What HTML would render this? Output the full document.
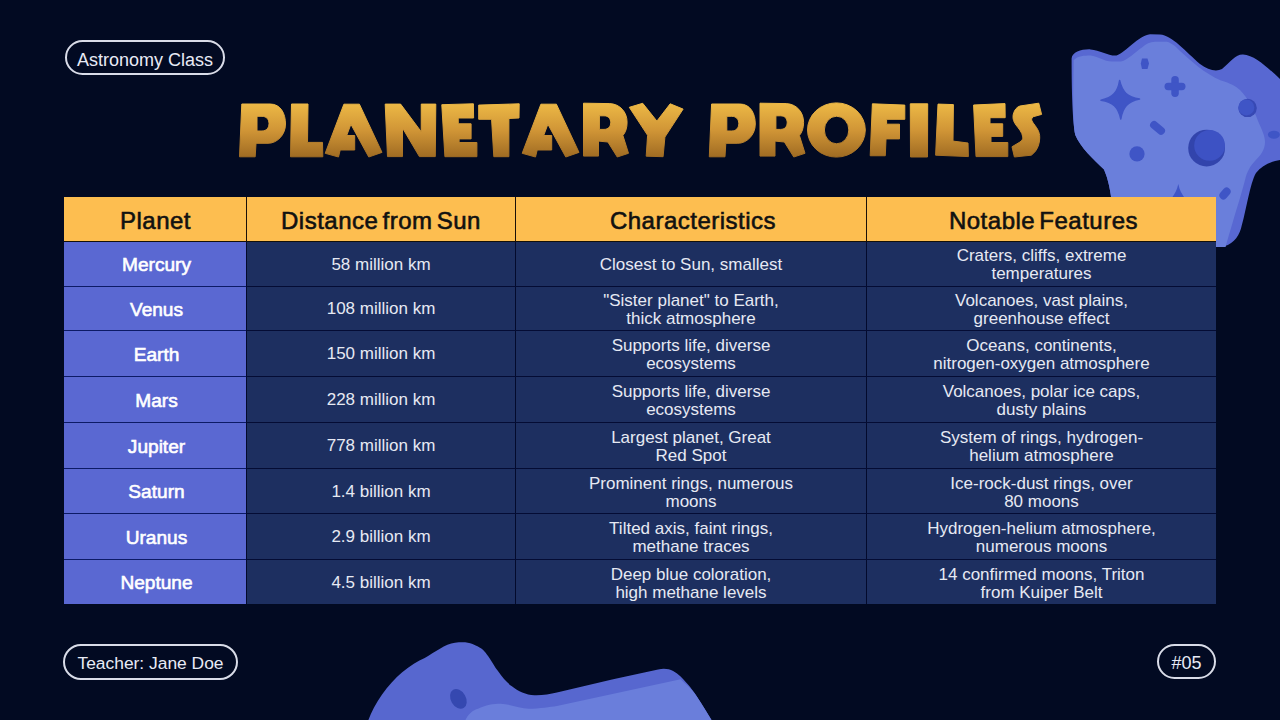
<!DOCTYPE html>
<html><head><meta charset="utf-8">
<style>
*{margin:0;padding:0;box-sizing:border-box}
html,body{width:1280px;height:720px;overflow:hidden;background:#020a22}
body{position:relative;font-family:"Liberation Sans",sans-serif}
.pill{position:absolute;border:2px solid #d9dce8;border-radius:20px;color:#e8ebf6;font-size:18px;line-height:36px;text-align:center;white-space:nowrap}
.c{position:absolute;display:flex;align-items:center;justify-content:center;text-align:center;white-space:nowrap}
.h{background:#fdbe50;color:#111;font-size:24px;-webkit-text-stroke:0.6px #111;letter-spacing:0.5px;word-spacing:-3px;padding-top:4px}
.p{background:#5a68d2;color:#fff;font-size:19.1px;-webkit-text-stroke:0.6px #fff;padding-left:3px;padding-top:2px}
.d{background:#1d2f60;color:#e6e9f3;font-size:17px;line-height:17.6px;padding-top:1px}
.d2{padding-top:3px}
.vl{position:absolute;width:1px;background:#050a24}
.hl{position:absolute;height:1px;background:#050a24}
</style></head><body>
<svg width="1280" height="720" style="position:absolute;left:0;top:0">
  <!-- top right asteroid -->
  <path d="M1071.6,58.6 C1072,52 1082,49 1090.5,49.4 C1100,50 1108,56 1116.5,55.5 C1126,52 1138,36 1150,34.2 L1160,34.5 C1172,35 1186,52 1200,64 C1208,70 1216,72 1222,69 C1230,62 1236,54 1243,54.4 C1255,55 1268,68 1280,79 L1280,160 C1272,161 1262,165 1256,173 C1250,183 1246,212 1241,228.6 C1238,238 1232,246 1220,247 L1113.4,247 C1113.5,220 1113,190 1104,169.5 C1094,160 1080,147 1075.3,135 C1072,120 1071.6,80 1071.6,58.6 Z" fill="#5868d2"/>
  <path d="M1073.7,60 C1078,56 1084,55.5 1090.5,55.5 C1098,56 1104,61.6 1112,61.6 L1121,61.6 C1128,60 1135,52 1142,47.5 C1146,44 1150,41.8 1155,41.8 L1166.9,41.8 C1172,43 1176,47 1180,51 C1190,60 1205,74 1221,80.4 C1230,83 1236,86 1240,90 C1248,98 1254,110 1258,121 C1262,130 1265,136 1265,142 C1265,150 1260,156 1255,161 C1250,166 1247,172 1245,180 C1241,195 1238,205 1236.3,210 C1232,225 1228,238 1225.6,247 L1113.4,247 C1113.5,220 1113,190 1104,169.5 C1094,160 1080,147 1075.3,135 C1072,120 1073.7,80 1073.7,60 Z" fill="#6a7fdb"/>
  <g fill="#3f55c6">
    <path d="M1119.6,80.5 C1122.3,92.2 1127.5,97.1 1139.5,99.1 C1127.6,101.7 1122.7,106.9 1120.8,119 C1118.1,107.0 1113.0,102.1 1101,100.3 C1112.8,97.5 1117.7,92.4 1119.6,80.5 Z" stroke="#3f55c6" stroke-width="1.5" stroke-linejoin="round"/>
    <rect x="1171.3" y="76" width="7.5" height="21" rx="3.7"/>
    <rect x="1164.5" y="82.8" width="21" height="7.5" rx="3.7"/>
    <path d="M1142,58.5 L1147.5,58.5 L1149,63.5 L1147.5,69 L1142,69 L1140.8,63.5 Z"/>
    <rect x="1149" y="124" width="17" height="8" rx="4" transform="rotate(40 1157.7 128)"/>
    <circle cx="1137" cy="153.9" r="7.6"/>
    
    <circle cx="1247.6" cy="107.9" r="9.2" fill="#3749b4"/><circle cx="1246.3" cy="107.4" r="8" fill="#3f55c6"/>
    <ellipse cx="1273.9" cy="134.7" rx="6" ry="4"/>
    <rect x="1218.5" y="189.5" width="13" height="8" rx="4" transform="rotate(-50 1225 193.5)"/>
    <path d="M1178.3,184 C1179.5,190 1182,194 1184,197 L1172.5,197 C1174.5,194 1177,190 1178.3,184 Z"/>
  </g>
  <circle cx="1206.6" cy="148.1" r="18.4" fill="#3244ac"/>
  <circle cx="1209.6" cy="145.4" r="15.4" fill="#3d52c4"/>
  <!-- bottom asteroid -->
  <path d="M368.4,720 C374,704 388,684 402.2,672.2 C410,666 418,661 424.7,658.1 C435,652 445,644 455,642.7 C462,642 468,642 472.5,644 C480,647 484,650 486.5,653.9 C492,661 494,666 497.8,670.8 C503,678 507,683 511.9,686.2 C518,691 526,695 534.4,695.2 C542,695.5 550,694 556.9,692.4 L613.1,679.2 L658.1,669.4 C668,667 675,671 680.6,676.4 C688,684 693,690 697.5,697.5 C703,706 708,714 711.5,720 Z" fill="#5767cf"/>
  <path d="M465.5,720 C468,714 473,710 478.1,708.7 C485,705 494,703.7 500.6,703.7 C510,704 520,708.7 528.7,708.7 C540,708.5 550,707 556.9,705.9 L680.6,679.2 C688,686 693,690 697.5,697.5 C703,706 708,714 711.5,720 Z" fill="#6a7edb"/>
  <ellipse cx="458.4" cy="698.9" rx="7.5" ry="10.5" transform="rotate(-30 458.4 698.9)" fill="#3548b0"/>
</svg>

<div class="pill" style="left:65px;top:40px;width:160px;height:35px">Astronomy Class</div>
<div class="pill" style="left:63px;top:644px;width:175px;height:36px;font-size:17.4px;line-height:34px">Teacher: Jane Doe</div>
<div class="pill" style="left:1157px;top:644px;width:59px;height:35px;line-height:34px">#05</div>

<!--TITLE--><svg width="1280" height="720" style="position:absolute;left:0;top:0">
<defs><linearGradient id="tg" gradientUnits="userSpaceOnUse" x1="0" y1="103" x2="0" y2="158">
<stop offset="0" stop-color="#edb946"/><stop offset="0.5" stop-color="#d09536"/><stop offset="1" stop-color="#9e6a22"/></linearGradient></defs>
<g fill="url(#tg)" stroke="url(#tg)" stroke-width="1" stroke-linejoin="round" fill-rule="evenodd">
<path id="P1" d="M241.8,104 L270,104 C281,104 285.5,114 285.5,124 C285.5,135 277,143.3 268,143.3 L256,143.3 L255.2,156.8 L239.5,156.8 Z M257,116.3 L262,116.3 C266.5,116.3 269,119.5 269,123.5 C269,127.8 266.5,131 262,131 L257,131 Z"/>
<path d="M291.5,104 L308,104 L307.5,142.4 L322.5,142.4 L322.8,156.8 L290.5,156.8 Z"/>
<path id="A1" d="M325.2,153.3 L343.9,104.2 L359.4,104.2 L382,152.4 L368.75,157 L350.9,124.25 L346.7,135.5 L354.7,135.5 L354.7,150 L340.2,150 L338.5,157 Z"/>
<path d="M385.2,104.1 L400.6,104.1 L421.25,131.75 L421.25,104.1 L435.8,104.1 L435.3,156.6 L419.4,156.6 L402.5,128 L402.5,156.6 L387.5,156.6 Z"/>
<path d="M441.8,104.7 L473.4,103.8 L473.6,118 L458.2,118 L458.3,123.8 L471.1,123.8 L471.1,138.9 L459.1,138.9 L459.1,142.5 L476.9,142.5 L476.9,156.7 L444.9,156.7 Z"/>
<path d="M478.7,105.1 L519.2,103.8 L519,118 L508.9,118.5 L508.9,156.7 L493.8,156.7 L491.6,119.3 L478.7,119.3 Z"/>
<use href="#A1" transform="translate(197,0)"/>
<path id="R1" d="M583.5,103.2 L609.75,103.6 C620,104 627.1,112 627.1,122.4 C627.1,128 625.5,132.5 622.9,135.5 L628.5,153.3 L617.25,157 L607.9,142 L598.5,141.1 L598.5,156.1 L583.5,156.1 Z M599.4,115.8 L604,115.8 C608.5,115.8 610.7,118.8 610.7,122.6 C610.7,126.5 608.5,129.4 604,129.4 L599.4,129.4 Z"/>
<path d="M629.3,107.3 L642.7,103.3 L656.9,121.1 L670.2,103.8 L683.1,109.1 L664.9,137.1 L663.1,156.7 L646.2,156.2 L647.6,135.3 Z"/>
<use href="#P1" transform="translate(469.8,0)"/>
<use href="#R1" transform="translate(176.5,0)"/>
<path d="M836.4,102.9 A28.9,27.1 0 1 1 836.4,157.1 A28.9,27.1 0 1 1 836.4,102.9 Z M836.6,116.2 A12.25,13.8 0 1 0 836.6,143.8 A12.25,13.8 0 1 0 836.6,116.2 Z"/>
<path d="M872.4,103.8 L904.8,105.1 L904.8,119.3 L886.6,119.3 L886.6,124.2 L899.5,124.2 L899.5,138.9 L886,138.9 L885.3,155.75 L870.2,155.75 Z"/>
<path d="M910.3,103.8 L927.7,103.8 L927.5,157 L910.5,157 Z"/>
<path d="M938,104.1 L953.4,104.6 L953,141.1 L968,143 L968.4,156.6 L935.6,155.2 Z"/>
<path d="M973.6,105 L1005,103.6 L1005.2,117.7 L990,117.7 L990,123.8 L1002.7,123.8 L1002.7,136.4 L991,136.4 L991,142.5 L1007.8,142.5 L1007.8,156.6 L976,156.6 Z"/>
<path d="M1020,106 L1038.75,103.2 L1041.6,114.4 L1033.1,116.75 C1031,118.5 1031.5,120 1032.5,122 C1036,127 1040,131 1039.7,138 C1039.5,146 1036,152 1031.25,155.2 L1014.4,157 L1012,146.75 L1020,142 C1022,140.5 1023,139 1022.8,137 C1022,132 1019,129 1016,125 C1013,121 1012.5,117 1013.4,114 C1014.5,109.5 1017,107 1020,106 Z"/>
</g></svg>
<!--/TITLE-->

<!--TBL-->
<div class="c h" style="left:64px;top:197px;width:182px;height:44px;padding-left:1px;">Planet</div>
<div class="c h" style="left:247px;top:197px;width:268px;height:44px;">Distance from Sun</div>
<div class="c h" style="left:516px;top:197px;width:350px;height:44px;padding-left:4px;">Characteristics</div>
<div class="c h" style="left:867px;top:197px;width:349px;height:44px;padding-left:4px;">Notable Features</div>
<div class="c p" style="left:64px;top:242px;width:182px;height:44px;">Mercury</div>
<div class="c d" style="left:247px;top:242px;width:268px;height:44px;">58 million km</div>
<div class="c d" style="left:516px;top:242px;width:350px;height:44px;">Closest to Sun, smallest</div>
<div class="c d d2" style="left:867px;top:242px;width:349px;height:44px;padding-top:1px;">Craters, cliffs, extreme<br>temperatures</div>
<div class="c p" style="left:64px;top:287px;width:182px;height:43px;">Venus</div>
<div class="c d" style="left:247px;top:287px;width:268px;height:43px;">108 million km</div>
<div class="c d d2" style="left:516px;top:287px;width:350px;height:43px;">"Sister planet" to Earth,<br>thick atmosphere</div>
<div class="c d d2" style="left:867px;top:287px;width:349px;height:43px;">Volcanoes, vast plains,<br>greenhouse effect</div>
<div class="c p" style="left:64px;top:331px;width:182px;height:45px;">Earth</div>
<div class="c d" style="left:247px;top:331px;width:268px;height:45px;">150 million km</div>
<div class="c d d2" style="left:516px;top:331px;width:350px;height:45px;">Supports life, diverse<br>ecosystems</div>
<div class="c d d2" style="left:867px;top:331px;width:349px;height:45px;">Oceans, continents,<br>nitrogen-oxygen atmosphere</div>
<div class="c p" style="left:64px;top:377px;width:182px;height:45px;">Mars</div>
<div class="c d" style="left:247px;top:377px;width:268px;height:45px;">228 million km</div>
<div class="c d d2" style="left:516px;top:377px;width:350px;height:45px;">Supports life, diverse<br>ecosystems</div>
<div class="c d d2" style="left:867px;top:377px;width:349px;height:45px;">Volcanoes, polar ice caps,<br>dusty plains</div>
<div class="c p" style="left:64px;top:423px;width:182px;height:45px;">Jupiter</div>
<div class="c d" style="left:247px;top:423px;width:268px;height:45px;">778 million km</div>
<div class="c d d2" style="left:516px;top:423px;width:350px;height:45px;">Largest planet, Great<br>Red Spot</div>
<div class="c d d2" style="left:867px;top:423px;width:349px;height:45px;">System of rings, hydrogen-<br>helium atmosphere</div>
<div class="c p" style="left:64px;top:469px;width:182px;height:44px;">Saturn</div>
<div class="c d" style="left:247px;top:469px;width:268px;height:44px;">1.4 billion km</div>
<div class="c d d2" style="left:516px;top:469px;width:350px;height:44px;">Prominent rings, numerous<br>moons</div>
<div class="c d d2" style="left:867px;top:469px;width:349px;height:44px;">Ice-rock-dust rings, over<br>80 moons</div>
<div class="c p" style="left:64px;top:514px;width:182px;height:45px;">Uranus</div>
<div class="c d" style="left:247px;top:514px;width:268px;height:45px;">2.9 billion km</div>
<div class="c d d2" style="left:516px;top:514px;width:350px;height:45px;">Tilted axis, faint rings,<br>methane traces</div>
<div class="c d d2" style="left:867px;top:514px;width:349px;height:45px;">Hydrogen-helium atmosphere,<br>numerous moons</div>
<div class="c p" style="left:64px;top:560px;width:182px;height:44px;">Neptune</div>
<div class="c d" style="left:247px;top:560px;width:268px;height:44px;">4.5 billion km</div>
<div class="c d d2" style="left:516px;top:560px;width:350px;height:44px;">Deep blue coloration,<br>high methane levels</div>
<div class="c d d2" style="left:867px;top:560px;width:349px;height:44px;">14 confirmed moons, Triton<br>from Kuiper Belt</div>
<div class="vl" style="left:246px;top:197px;height:44px;background:#1a1008"></div>
<div class="vl" style="left:246px;top:241px;height:363px;background:#030a2c"></div>
<div class="vl" style="left:515px;top:197px;height:44px;background:#1a1008"></div>
<div class="vl" style="left:515px;top:241px;height:363px;background:#030a2c"></div>
<div class="vl" style="left:866px;top:197px;height:44px;background:#1a1008"></div>
<div class="vl" style="left:866px;top:241px;height:363px;background:#030a2c"></div>
<div class="hl" style="left:64px;top:241px;width:1152px;background:#14100a"></div>
<div class="hl" style="left:64px;top:286px;width:182px;background:#0c1a66"></div>
<div class="hl" style="left:246px;top:286px;width:970px;background:#040c34"></div>
<div class="hl" style="left:64px;top:330px;width:182px;background:#0c1a66"></div>
<div class="hl" style="left:246px;top:330px;width:970px;background:#040c34"></div>
<div class="hl" style="left:64px;top:376px;width:182px;background:#0c1a66"></div>
<div class="hl" style="left:246px;top:376px;width:970px;background:#040c34"></div>
<div class="hl" style="left:64px;top:422px;width:182px;background:#0c1a66"></div>
<div class="hl" style="left:246px;top:422px;width:970px;background:#040c34"></div>
<div class="hl" style="left:64px;top:468px;width:182px;background:#0c1a66"></div>
<div class="hl" style="left:246px;top:468px;width:970px;background:#040c34"></div>
<div class="hl" style="left:64px;top:513px;width:182px;background:#0c1a66"></div>
<div class="hl" style="left:246px;top:513px;width:970px;background:#040c34"></div>
<div class="hl" style="left:64px;top:559px;width:182px;background:#0c1a66"></div>
<div class="hl" style="left:246px;top:559px;width:970px;background:#040c34"></div>
<!--/TBL-->
</body></html>
